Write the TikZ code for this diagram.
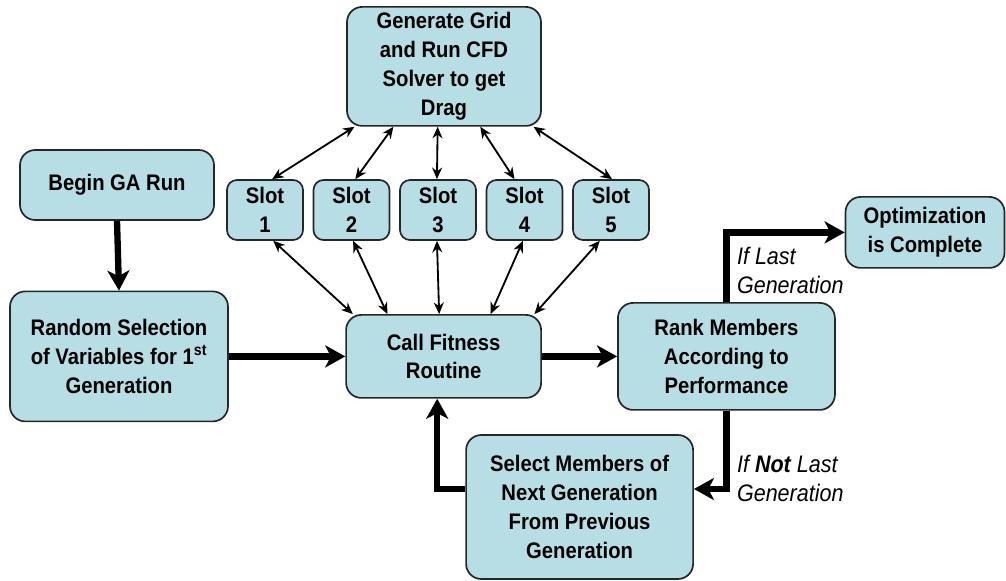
\documentclass[tikz,border=0pt]{standalone}
\usepackage{fontspec}
\setmainfont{Liberation Sans}
\newfontfamily\boxfont[FakeStretch=0.9]{Liberation Sans}
\usetikzlibrary{arrows.meta}

\definecolor{boxfill}{RGB}{183,222,228}
\definecolor{boxline}{RGB}{38,38,38}

\begin{document}
\begin{tikzpicture}[
    flow/.style  = {line width=4.5pt, -{Stealth[length=5mm, width=5.5mm, inset=1.4mm]}},
    link/.style  = {line width=1.3pt, {Stealth[length=2.9mm, width=2.5mm]}-{Stealth[length=2.9mm, width=2.5mm]}},
    box/.style   = {draw=boxline, line width=1.2pt, fill=boxfill, rounded corners=0.38cm,
                    align=center, inner sep=2pt,
                    font=\boxfont\fontsize{16}{20.5}\selectfont\bfseries},
    slotbox/.style = {box, rounded corners=0.25cm, minimum width=1.9cm, minimum height=1.5cm},
    note/.style  = {align=left, inner sep=0pt, font=\boxfont\fontsize{17}{20.5}\selectfont\itshape}
]
\useasboundingbox (0, 0) rectangle (25.15, -14.525);

% Main boxes
\node[box, minimum width=4.85cm, minimum height=2.975cm] (G) at (11.1, -1.66)
    {Generate Grid\\and Run CFD\\Solver to get\\Drag};
\node[box, minimum width=4.85cm, minimum height=1.75cm] (B) at (2.925, -4.625) {Begin GA Run};
\node[box, minimum width=5.45cm, minimum height=3.25cm] (V) at (2.975, -8.91)
    {Random Selection\\of Variables for 1\textsuperscript{st}\\Generation};
\node[box, minimum width=4.875cm, minimum height=2.075cm] (C) at (11.09, -8.91) {Call Fitness\\Routine};
\node[box, minimum width=5.425cm, minimum height=2.675cm] (R) at (18.16, -8.91)
    {Rank Members\\According to\\Performance};
\node[box, minimum width=3.975cm, minimum height=1.775cm] (O) at (23.125, -5.81)
    {Optimization\\is Complete};
\node[box, minimum width=5.675cm, minimum height=3.6cm] (S) at (14.49, -12.675)
    {Select Members of\\Next Generation\\From Previous\\Generation};

% Slots and their links
\foreach \i in {1,...,5}
    \node[slotbox] (S\i) at ({6.625 + (\i-1)*2.1625}, -5.25) {Slot\\\i};
\foreach \i/\gt/\st/\sb/\ct in {1/-146/77/-75/155, 2/-130/83/-87/143, 3/-96/92/-92/96,
                               4/-59/108/-93/42, 5/-34/88/-110/25}
{
    \draw[link] (S\i.\st) -- (G.\gt);
    \draw[link] (S\i.\sb) -- (C.\ct);
}

% Main flow
\draw[flow] (B.south) -- (V.north);
\draw[flow] (V.east) -- (C.west);
\draw[flow] (C.east) -- (R.west);
\draw[flow] (R.north) |- (O.west);
\draw[flow] (R.south) |- ([yshift=0.45cm]S.east);
\draw[flow] ([yshift=0.45cm]S.west) -| ([xshift=-0.16cm]C.south);

% Branch labels
\node[note, anchor=south west] (last) at ([xshift=0.26cm, yshift=0.2cm]R.north)
    {If Last\\Generation};
\node[note, anchor=north west] (notlast) at ([xshift=0.26cm, yshift=-1.1cm]R.south)
    {If \textbf{Not} Last\\Generation};

\end{tikzpicture}
\end{document}
